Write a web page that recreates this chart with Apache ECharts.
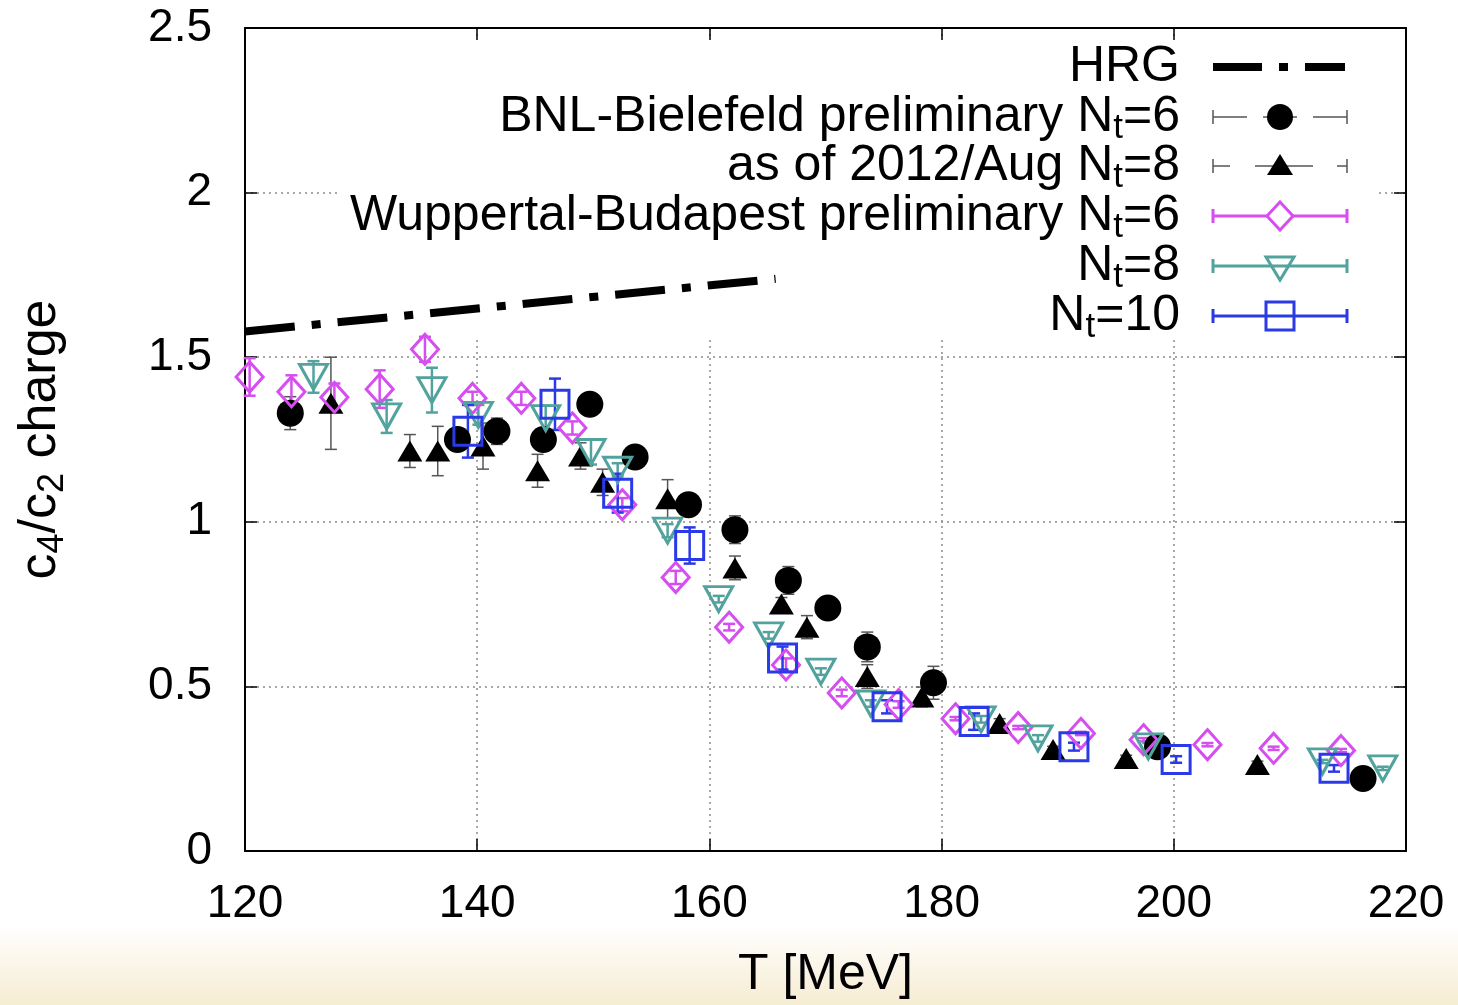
<!DOCTYPE html>
<html>
<head>
<meta charset="utf-8">
<script src="https://cdn.jsdelivr.net/npm/echarts@6/dist/echarts.min.js"></script>
<style>
  html, body { margin: 0; padding: 0; background: #ffffff; }
  #chart { width: 1458px; height: 1005px; }
</style>
</head>
<body>
<div id="chart"></div>
<script>
// ---- axis ticks ----
const xTicks = [120, 140, 160, 180, 200, 220];
const yTicks = [0, 0.5, 1, 1.5, 2, 2.5];

// ---- data: [T (MeV), c4/c2, error] ----
const hrg = [[120, 1.578], [142, 1.655], [165.7, 1.738]];

const bnlNt6 = [
  [123.9, 1.33, 0.05], [138.3, 1.25, 0.02], [141.7, 1.275, 0.04], [145.7, 1.25, 0.02],
  [149.7, 1.357, 0.02], [153.6, 1.197, 0.02], [158.2, 1.052, 0.02], [162.2, 0.976, 0.042],
  [166.8, 0.822, 0.042], [170.2, 0.738, 0.02], [173.6, 0.62, 0.045], [179.3, 0.511, 0.05],
  [198.6, 0.317, 0.02], [216.3, 0.22, 0.02]
];

const bnlNt8 = [
  [127.4, 1.36, 0.14], [134.2, 1.215, 0.05], [136.6, 1.215, 0.075], [140.5, 1.23, 0.07],
  [145.2, 1.155, 0.05], [148.9, 1.2, 0.04], [150.8, 1.12, 0.04], [156.4, 1.07, 0.058],
  [162.2, 0.86, 0.036], [166.2, 0.75, 0.02], [168.4, 0.68, 0.035], [173.6, 0.53, 0.036],
  [178.3, 0.468, 0.03], [185.0, 0.387, 0.015], [189.6, 0.308, 0.01], [195.9, 0.281, 0.01],
  [207.2, 0.263, 0.01]
];

const wbNt6 = [
  [120.4, 1.44, 0.057], [124.0, 1.395, 0.05], [127.7, 1.378, 0.042], [131.6, 1.403, 0.057],
  [135.5, 1.524, 0.038], [139.6, 1.375, 0.02], [143.8, 1.375, 0.02], [148.2, 1.285, 0.02],
  [152.5, 1.052, 0.02], [157.1, 0.831, 0.02], [161.7, 0.68, 0.01], [166.6, 0.565, 0.02],
  [171.4, 0.48, 0.01], [176.3, 0.445, 0.01], [181.2, 0.402, 0.005], [186.6, 0.375, 0.005],
  [192.0, 0.357, 0.005], [197.4, 0.338, 0.005], [202.9, 0.323, 0.005], [208.6, 0.312, 0.005],
  [214.4, 0.305, 0.005]
];

const wbNt8 = [
  [125.9, 1.44, 0.048], [132.2, 1.32, 0.05], [136.1, 1.40, 0.068], [140.1, 1.325, 0.03],
  [145.9, 1.315, 0.038], [149.8, 1.212, 0.038], [152.1, 1.158, 0.02], [156.4, 0.973, 0.02],
  [160.8, 0.765, 0.01], [165.1, 0.655, 0.01], [169.6, 0.545, 0.01], [173.9, 0.448, 0.01],
  [183.4, 0.40, 0.01], [188.3, 0.342, 0.01], [197.8, 0.318, 0.01], [212.8, 0.272, 0.005],
  [218.0, 0.251, 0.005]
];

const wbNt10 = [
  [139.2, 1.275, 0.08], [146.7, 1.357, 0.078], [152.1, 1.087, 0.059], [158.3, 0.928, 0.055],
  [166.3, 0.586, 0.035], [175.3, 0.438, 0.02], [182.8, 0.393, 0.025], [191.4, 0.317, 0.012],
  [200.2, 0.278, 0.01], [213.8, 0.251, 0.01]
];

// ---- legend labels (rich text: m = main, s = subscript) ----
const legendLabels = [
  '{m|HRG}',
  '{m|BNL-Bielefeld preliminary N}{s|t}{m|=6}',
  '{m|as of 2012/Aug N}{s|t}{m|=8}',
  '{m|Wuppertal-Budapest preliminary N}{s|t}{m|=6}',
  '{m|N}{s|t}{m|=8}',
  '{m|N}{s|t}{m|=10}'
];

// ---- styling ----
const FONT = '"Liberation Sans", Arial, Helvetica, sans-serif';
const MAGENTA = '#d64ef0';
const TEAL = '#52a39d';
const BLUE = '#2a3ae6';
const GREY = '#555555';

const richText = {
  m: { fontSize: 50, lineHeight: 58, fontFamily: FONT, fill: '#000', color: '#000' },
  s: { fontSize: 35, lineHeight: 20, verticalAlign: 'bottom', fontFamily: FONT, fill: '#000', color: '#000' }
};

// vertical error bar with caps
function errorBarRenderer(color, width, cap) {
  return function (params, api) {
    const x = api.value(0), y = api.value(1), e = api.value(2);
    const top = api.coord([x, y + e]);
    const bot = api.coord([x, y - e]);
    const h = cap / 2;
    const st = { stroke: color, lineWidth: width };
    return {
      type: 'group',
      children: [
        { type: 'line', shape: { x1: top[0], y1: top[1], x2: bot[0], y2: bot[1] }, style: st },
        { type: 'line', shape: { x1: top[0] - h, y1: top[1], x2: top[0] + h, y2: top[1] }, style: st },
        { type: 'line', shape: { x1: bot[0] - h, y1: bot[1], x2: bot[0] + h, y2: bot[1] }, style: st }
      ]
    };
  };
}

function errSeries(data, color, width, cap) {
  return {
    type: 'custom', data: data, silent: true, clip: false,
    encode: { x: 0, y: 1 },
    renderItem: errorBarRenderer(color, width, cap)
  };
}

function markSeries(data, symbol, size, fill, stroke, bw, rotate) {
  return {
    type: 'scatter', data: data.map(d => [d[0], d[1]]), silent: true, clip: false,
    symbol: symbol, symbolSize: size, symbolRotate: rotate || 0,
    itemStyle: { color: fill, borderColor: stroke, borderWidth: bw, opacity: 1 }
  };
}

// ---- legend drawing ----
const LX0 = 1213, LX1 = 1347, LXM = 1280, LTX = 1180;
const rowY = [67, 117, 166, 216, 266, 316];

function capLine(y, color, w, segs) {
  const out = [];
  segs.forEach(s => out.push({ type: 'line', z: 10, shape: { x1: s[0], y1: y, x2: s[1], y2: y }, style: { stroke: color, lineWidth: w } }));
  out.push({ type: 'line', z: 10, shape: { x1: LX0, y1: y - 7, x2: LX0, y2: y + 7 }, style: { stroke: color, lineWidth: w } });
  out.push({ type: 'line', z: 10, shape: { x1: LX1, y1: y - 7, x2: LX1, y2: y + 7 }, style: { stroke: color, lineWidth: w } });
  return out;
}

const legendEls = [];
legendLabels.forEach((t, i) => {
  legendEls.push({
    type: 'text', x: LTX, y: rowY[i], z: 10,
    style: { text: t, align: 'right', verticalAlign: 'middle', rich: richText }
  });
});
// HRG sample
legendEls.push({ type: 'line', z: 10, shape: { x1: LX0, y1: rowY[0], x2: LX1 - 2, y2: rowY[0] },
  style: { stroke: '#000', lineWidth: 8, lineDash: [49, 17, 9, 17], lineCap: 'butt' } });
// BNL Nt=6
legendEls.push(...capLine(rowY[1], GREY, 1.5, [[LX0, 1247], [1263, 1297], [1313, LX1]]));
legendEls.push({ type: 'circle', z: 11, shape: { cx: LXM, cy: rowY[1], r: 13 }, style: { fill: '#000' } });
// BNL Nt=8
legendEls.push(...capLine(rowY[2], GREY, 1.5, [[LX0, 1230], [1255, 1313], [1337, LX1]]));
legendEls.push({ type: 'polygon', z: 11, shape: { points: [[LXM, rowY[2] - 12], [LXM - 13, rowY[2] + 9], [LXM + 13, rowY[2] + 9]] }, style: { fill: '#000' } });
// WB Nt=6
legendEls.push(...capLine(rowY[3], MAGENTA, 3, [[LX0, LX1]]));
legendEls.push({ type: 'polygon', z: 11, shape: { points: [[LXM, rowY[3] - 14], [LXM + 13, rowY[3]], [LXM, rowY[3] + 14], [LXM - 13, rowY[3]]] }, style: { fill: '#fff', stroke: MAGENTA, lineWidth: 3 } });
// WB Nt=8
legendEls.push(...capLine(rowY[4], TEAL, 3, [[LX0, LX1]]));
legendEls.push({ type: 'polygon', z: 11, shape: { points: [[LXM - 14, rowY[4] - 9], [LXM + 14, rowY[4] - 9], [LXM, rowY[4] + 14]] }, style: { fill: 'rgba(0,0,0,0)', stroke: TEAL, lineWidth: 3 } });
// WB Nt=10
legendEls.push(...capLine(rowY[5], BLUE, 3, [[LX0, LX1]]));
legendEls.push({ type: 'rect', z: 11, shape: { x: LXM - 14, y: rowY[5] - 14, width: 28, height: 28 }, style: { fill: 'rgba(0,0,0,0)', stroke: BLUE, lineWidth: 3 } });

const chart = echarts.init(document.getElementById('chart'), null, { renderer: 'canvas' });

const axisCommon = {
  type: 'value',
  axisLine: { show: true, onZero: false, lineStyle: { color: '#000', width: 2 } },
  axisTick: { show: true, inside: true, length: 12, lineStyle: { color: '#000', width: 1.5 } }
};

chart.setOption({
  animation: false,
  backgroundColor: '#ffffff',
  grid: { left: 245, right: 52, top: 28, bottom: 150, containLabel: false },
  xAxis: [
    Object.assign({}, axisCommon, {
      position: 'bottom', min: xTicks[0], max: xTicks[xTicks.length - 1], interval: xTicks[1] - xTicks[0],
      name: 'T [MeV]', nameLocation: 'middle', nameGap: 99,
      nameTextStyle: { fontSize: 50, fontFamily: FONT, color: '#000' },
      axisLabel: { fontSize: 46, fontFamily: FONT, color: '#000', margin: 30 },
      splitLine: { show: true, lineStyle: { color: '#8a8a8a', width: 1.5, type: [2, 4] } }
    }),
    Object.assign({}, axisCommon, {
      position: 'top', min: xTicks[0], max: xTicks[xTicks.length - 1], interval: xTicks[1] - xTicks[0],
      axisLabel: { show: false }, splitLine: { show: false }
    })
  ],
  yAxis: [
    Object.assign({}, axisCommon, {
      position: 'left', min: yTicks[0], max: yTicks[yTicks.length - 1], interval: yTicks[1] - yTicks[0],
      name: '{m|c}{s|4}{m|/c}{s|2}{m| charge}', nameLocation: 'middle', nameRotate: 90, nameGap: 174,
      nameTextStyle: { fontFamily: FONT, color: '#000', rich: {
        m: { fontSize: 52, lineHeight: 60, fontFamily: FONT, color: '#000' },
        s: { fontSize: 36, lineHeight: 20, verticalAlign: 'bottom', fontFamily: FONT, color: '#000' }
      } },
      axisLabel: { fontSize: 46, fontFamily: FONT, color: '#000', margin: 33 },
      splitLine: { show: true, lineStyle: { color: '#8a8a8a', width: 1.5, type: [2, 4] } }
    }),
    Object.assign({}, axisCommon, {
      position: 'right', min: yTicks[0], max: yTicks[yTicks.length - 1], interval: yTicks[1] - yTicks[0],
      axisLabel: { show: false }, splitLine: { show: false }
    })
  ],
  graphic: {
    elements: [
      // soft cream band at the bottom of the page
      { type: 'rect', z: -1, silent: true, shape: { x: 0, y: 925, width: 1458, height: 80 },
        style: { fill: new echarts.graphic.LinearGradient(0, 0, 0, 1, [
          { offset: 0, color: 'rgba(255,255,255,1)' }, { offset: 1, color: '#f6ecd2' }]) } },
      // opaque key area
      { type: 'rect', z: 1, silent: true, shape: { x: 340, y: 40, width: 1035, height: 300 }, style: { fill: '#ffffff' } }
    ].concat(legendEls)
  },
  series: [
    {
      type: 'line', data: hrg, symbol: 'none', silent: true, z: 3,
      lineStyle: { color: '#000', width: 8, type: [50, 17, 9, 17], cap: 'butt' }
    },
    errSeries(bnlNt6, GREY, 1.5, 12),
    markSeries(bnlNt6, 'circle', 27, '#000', '#000', 0),
    errSeries(bnlNt8, GREY, 1.5, 12),
    markSeries(bnlNt8, 'triangle', [25, 21], '#000', '#000', 0),
    errSeries(wbNt6, MAGENTA, 2.5, 12),
    markSeries(wbNt6, 'diamond', [27, 30], 'rgba(0,0,0,0)', MAGENTA, 3),
    errSeries(wbNt8, TEAL, 2.5, 12),
    markSeries(wbNt8, 'triangle', [28, 25], 'rgba(0,0,0,0)', TEAL, 3, 180),
    errSeries(wbNt10, BLUE, 2.5, 12),
    markSeries(wbNt10, 'rect', [28, 28], 'rgba(0,0,0,0)', BLUE, 3)
  ]
});
</script>
</body>
</html>
